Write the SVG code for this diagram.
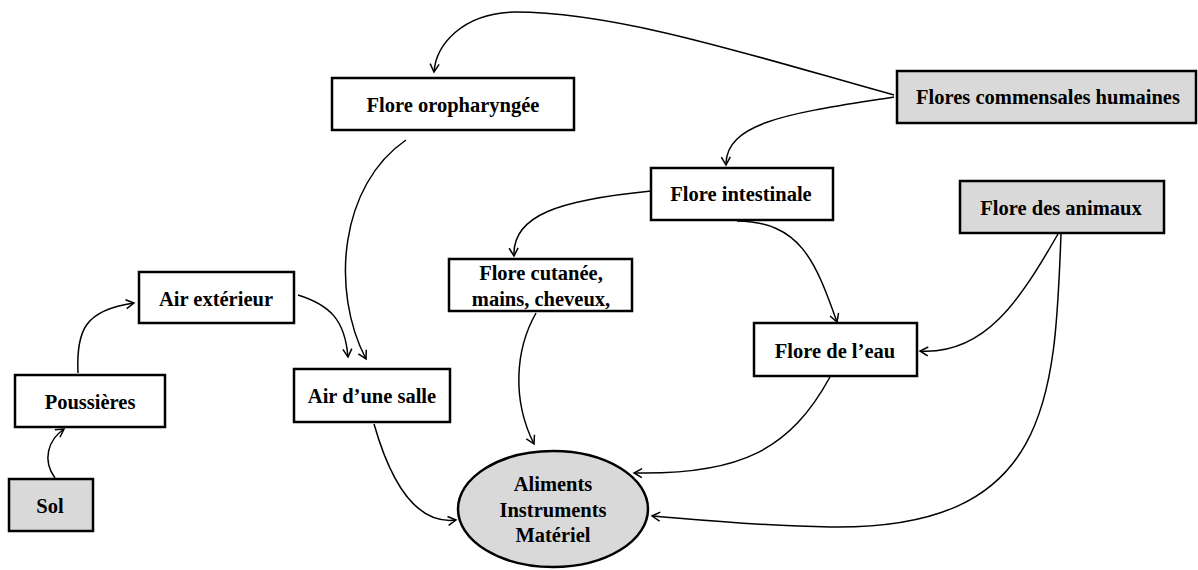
<svg xmlns="http://www.w3.org/2000/svg" width="1198" height="570" viewBox="0 0 1198 570">
<style>
.box{fill:#fff;stroke:#000;stroke-width:2.5}
.gray{fill:#d9d9d9;stroke:#000;stroke-width:2.5}
.t{font-family:"Liberation Serif","Times New Roman",serif;font-weight:bold;font-size:20.5px;fill:#000;text-anchor:middle}
.c{fill:none;stroke:#000;stroke-width:1.5;marker-end:url(#ah)}
</style>
<defs>
<marker id="ah" viewBox="-10 -6 12 12" refX="0" refY="0" markerWidth="12" markerHeight="12" markerUnits="userSpaceOnUse" orient="auto">
<path d="M -8 -4.5 L 0 0 L -8 4.5" fill="none" stroke="#000" stroke-width="1.5"/>
</marker>
</defs>
<rect width="1198" height="570" fill="#fff"/>
<g id="connectors">
<path class="c" d="M 894 95 C 760 58 620 12 515 12 C 462 13 436 45 434 72"/>
<path class="c" d="M 894 97 C 800 112 725 120 726 165"/>
<path class="c" d="M 651 191 C 560 200 512 215 514 256"/>
<path class="c" d="M 737 221 C 800 222 815 260 837 322"/>
<path class="c" d="M 1058 234 C 1020 300 985 355 920 351"/>
<path class="c" d="M 1061 234 C 1055 400 1050 530 830 527 C 760 526 700 520 652 516"/>
<path class="c" d="M 830 377 C 790 450 740 475 634 473"/>
<path class="c" d="M 536 313 C 515 350 512 400 534 444"/>
<path class="c" d="M 406 140 C 340 185 330 290 366 359"/>
<path class="c" d="M 298 295 C 330 305 345 320 348 357"/>
<path class="c" d="M 78 373 C 76 330 85 310 134 303"/>
<path class="c" d="M 55 478 C 42 460 48 440 64 429"/>
<path class="c" d="M 374 424 C 390 480 415 525 456 520"/>
</g>
<g id="flore-oropharyngee">
<rect class="box" x="332" y="78" width="242" height="52"/>
<text class="t" x="453" y="112">Flore oropharyngée</text>
</g>
<g id="flores-commensales">
<rect class="gray" x="897" y="71" width="299" height="52"/>
<text class="t" x="1048" y="104">Flores commensales humaines</text>
</g>
<g id="flore-intestinale">
<rect class="box" x="651" y="168" width="182" height="52"/>
<text class="t" x="741" y="201">Flore intestinale</text>
</g>
<g id="flore-animaux">
<rect class="gray" x="960" y="181" width="204" height="52"/>
<text class="t" x="1061" y="215">Flore des animaux</text>
</g>
<g id="flore-cutanee">
<rect class="box" x="449" y="259" width="183" height="52"/>
<text class="t" x="541" y="280">Flore cutanée,</text>
<text class="t" x="541" y="306">mains, cheveux,</text>
</g>
<g id="air-exterieur">
<rect class="box" x="139" y="272" width="155" height="51"/>
<text class="t" x="216" y="306">Air extérieur</text>
</g>
<g id="poussieres">
<rect class="box" x="15" y="375" width="150" height="52"/>
<text class="t" x="90" y="409">Poussières</text>
</g>
<g id="sol">
<rect class="gray" x="9" y="479" width="84" height="52"/>
<text class="t" x="50" y="513">Sol</text>
</g>
<g id="air-salle">
<rect class="box" x="294" y="369" width="156" height="53"/>
<text class="t" x="372" y="403">Air d’une salle</text>
</g>
<g id="flore-eau">
<rect class="box" x="754" y="323" width="163" height="53"/>
<text class="t" x="835" y="358">Flore de l’eau</text>
</g>
<g id="aliments">
<ellipse class="gray" cx="553" cy="509" rx="95" ry="58"/>
<text class="t" x="553" y="491">Aliments</text>
<text class="t" x="553" y="517">Instruments</text>
<text class="t" x="553" y="542">Matériel</text>
</g>
</svg>
